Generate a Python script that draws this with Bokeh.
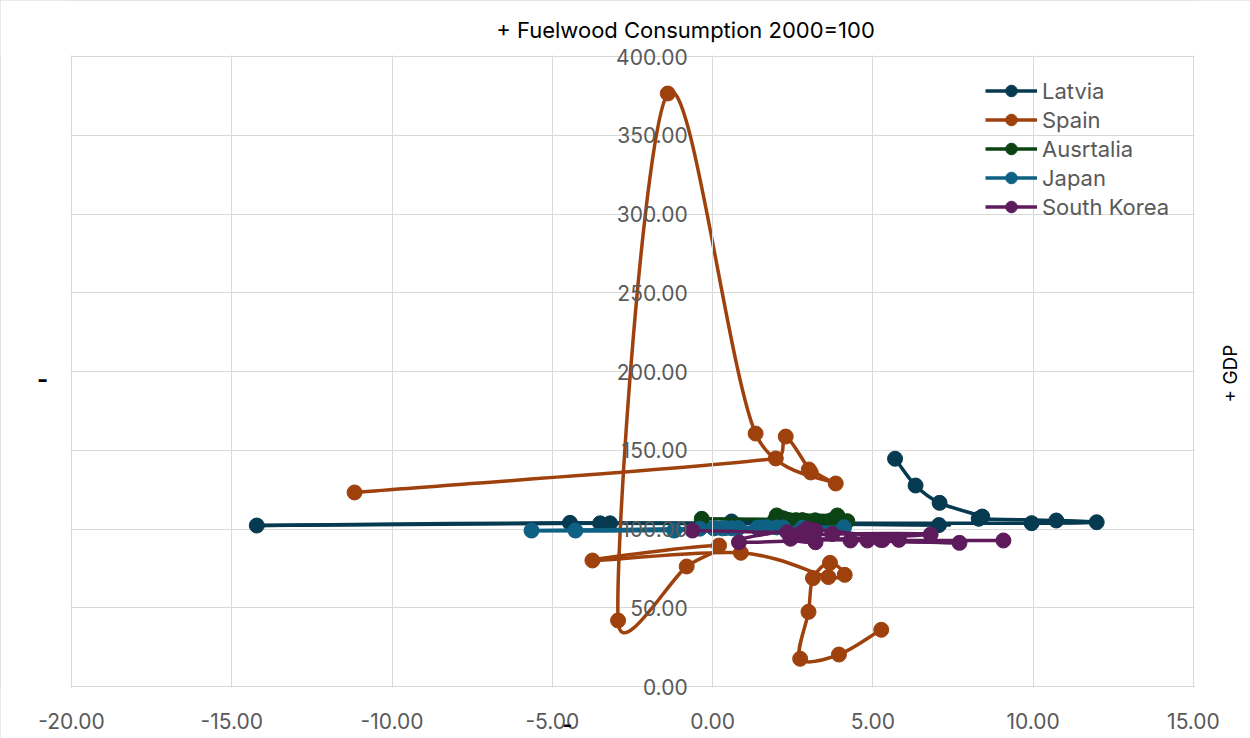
import numpy as np
from bokeh.plotting import figure
from bokeh.models import (ColumnDataSource, Range1d, SingleIntervalTicker, NumeralTickFormatter,
                          Label, Legend, LegendItem, LinearAxis, BoxAnnotation)
from bokeh.embed import file_html
from bokeh.resources import INLINE

# GDP growth (x) vs fuelwood consumption index (y), 2000-2020
latvia_x = [5.69, 6.33, 7.08, 8.41, 8.30, 10.72, 11.98, 9.95, -3.51, -14.22, -4.45,
            7.06, 4.10, 2.40, 0.59, 3.90, 2.40, 3.30, 4.00, 2.60, -3.20]
latvia_y = [144.6, 127.6, 116.6, 107.9, 106.5, 105.4, 104.3, 103.7, 103.6, 102.2, 103.9,
            102.5, 103.2, 103.5, 104.8, 103.4, 103.5, 103.6, 103.8, 103.5, 103.6]

spain_x = [5.26, 3.94, 2.73, 2.99, 3.13, 3.66, 4.12, 3.61, 0.88, -3.75, 0.20,
           -0.81, -2.95, -1.40, 1.34, 3.84, 3.00, 3.06, 2.28, 1.97, -11.17]
spain_y = [36.0, 20.3, 17.6, 47.4, 68.8, 78.5, 70.9, 69.5, 84.9, 80.0, 89.5,
           76.2, 41.9, 376.5, 160.6, 128.9, 137.8, 135.9, 158.7, 144.8, 123.2]

australia_x = [3.89, 2.00, 3.95, 2.90, 4.20, 3.20, 2.80, 3.80, 3.70, 1.95, 2.20,
               2.40, 3.90, 2.60, 2.60, 2.30, 2.80, 2.40, 2.80, 2.20, -0.34]
australia_y = [108.6, 108.6, 105.8, 105.0, 105.0, 105.5, 105.2, 105.8, 105.5, 106.0, 106.8,
               105.6, 106.2, 105.2, 105.6, 106.0, 105.4, 105.2, 105.6, 106.0, 106.5]

japan_x = [2.80, 0.40, 0.05, 1.50, 2.20, 1.70, 1.40, 1.50, -1.20, -5.65, 4.10,
           0.02, 1.40, 2.00, 0.30, 1.60, 0.80, 1.70, 0.60, -0.40, -4.28]
japan_y = [100.8, 100.6, 100.4, 100.8, 101.0, 101.0, 100.8, 100.9, 99.0, 99.0, 101.1,
           100.6, 100.8, 101.0, 100.4, 100.9, 100.6, 101.0, 100.5, 100.2, 99.0]

korea_x = [9.07, 4.83, 7.70, 3.16, 5.24, 4.30, 5.30, 5.81, 2.95, 0.82, 6.80,
           3.73, 2.43, 3.21, 3.20, 2.80, 2.95, 3.16, 2.95, 2.33, -0.63]
korea_y = [92.7, 92.7, 91.2, 93.5, 93.1, 92.7, 93.0, 93.1, 99.5, 91.6, 96.5,
           96.8, 93.8, 91.6, 99.0, 98.0, 99.2, 99.0, 100.2, 97.9, 99.0]

series = [
    ("Latvia", latvia_x, latvia_y, "#053A50"),
    ("Spain", spain_x, spain_y, "#9E410C"),
    ("Ausrtalia", australia_x, australia_y, "#0C4314"),
    ("Japan", japan_x, japan_y, "#0F6184"),
    ("South Korea", korea_x, korea_y, "#5E1B5C"),
]

X_START, X_END = -20, 15
Y_START, Y_END = 0, 400

# canvas and plot-area placement in pixels (the Bokeh frame is the whole canvas,
# the Excel "plot area" is drawn inside it so nothing gets clipped)
W, H = 1250, 738
AREA_L, AREA_R, AREA_T, AREA_B = 71, 1193, 56, 686
SX = (AREA_R - AREA_L) / (X_END - X_START)
SY = (AREA_B - AREA_T) / (Y_END - Y_START)

FONT = "Inter"
GREY = "#595959"
GRID = "#D9D9D9"


def excel_smooth(xs, ys):
    '''Bezier segments like Excel's "smoothed line" (control points worked out in pixels).'''
    pts = np.column_stack([np.asarray(xs, float) * SX, np.asarray(ys, float) * SY])
    n = len(pts)
    seg = {k: [] for k in ("x0", "y0", "x1", "y1", "cx0", "cy0", "cx1", "cy1")}
    for i in range(n - 1):
        p0 = pts[i - 1] if i > 0 else pts[i]
        p1, p2 = pts[i], pts[i + 1]
        p3 = pts[i + 2] if i + 2 < n else pts[i + 1]
        d12 = np.hypot(*(p2 - p1))
        d02 = np.hypot(*(p2 - p0))
        d13 = np.hypot(*(p3 - p1))
        f1 = 1 / 6 if i > 0 else 1 / 3
        f2 = 1 / 6 if i + 2 < n else 1 / 3
        if d02 * f1 >= d12 / 2:
            f1 = d12 / (2 * d02)
        if d13 * f2 >= d12 / 2:
            f2 = d12 / (2 * d13)
        c1 = p1 + f1 * (p2 - p0)
        c2 = p2 - f2 * (p3 - p1)
        seg["x0"].append(p1[0] / SX)
        seg["y0"].append(p1[1] / SY)
        seg["x1"].append(p2[0] / SX)
        seg["y1"].append(p2[1] / SY)
        seg["cx0"].append(c1[0] / SX)
        seg["cy0"].append(c1[1] / SY)
        seg["cx1"].append(c2[0] / SX)
        seg["cy1"].append(c2[1] / SY)
    return ColumnDataSource(seg)


def px_to_x(px):
    return X_START + (px - AREA_L) / SX


def py_to_y(py):
    return Y_START + (AREA_B - py) / SY


p = figure(width=W, height=H, output_backend="svg", toolbar_location=None,
           x_range=Range1d(px_to_x(0), px_to_x(W)), y_range=Range1d(py_to_y(H), py_to_y(0)),
           x_axis_location=None, y_axis_location=None,
           min_border=0, min_border_left=0, min_border_right=0, min_border_top=0, min_border_bottom=0)
p.outline_line_color = GRID
p.background_fill_color = "white"
p.border_fill_color = "white"

p.xgrid.ticker = SingleIntervalTicker(interval=5)
p.ygrid.ticker = SingleIntervalTicker(interval=50)
p.xgrid.grid_line_color = GRID
p.ygrid.grid_line_color = GRID

# white strips around the plot area hide the grid outside it
for kw in (dict(right=px_to_x(AREA_L - 1)), dict(left=px_to_x(AREA_R + 1)),
           dict(top=py_to_y(AREA_B + 1)), dict(bottom=py_to_y(AREA_T - 1))):
    p.add_layout(BoxAnnotation(level="underlay", fill_color="white", fill_alpha=1,
                               line_color=None, **kw))

xaxis = LinearAxis(fixed_location=0, bounds=(X_START, X_END), ticker=SingleIntervalTicker(interval=5),
                   major_label_standoff=22)
yaxis = LinearAxis(fixed_location=0, bounds=(Y_START, Y_END), ticker=SingleIntervalTicker(interval=50),
                   major_label_standoff=21)
for ax in (xaxis, yaxis):
    ax.formatter = NumeralTickFormatter(format="0.00")
    ax.axis_line_color = GRID
    ax.major_tick_line_color = None
    ax.major_tick_out = 0
    ax.major_tick_in = 0
    ax.minor_tick_line_color = None
    ax.major_label_text_font = FONT
    ax.major_label_text_font_size = "21px"
    ax.major_label_text_color = GREY
p.add_layout(xaxis, "below")
p.add_layout(yaxis, "left")

items = []
for name, xs, ys, color in series:
    bez = p.bezier(x0="x0", y0="y0", x1="x1", y1="y1", cx0="cx0", cy0="cy0", cx1="cx1", cy1="cy1",
                   source=excel_smooth(xs, ys), line_color=color, line_width=3.5)
    dots = p.scatter(xs, ys, marker="circle", size=15, fill_color=color, line_color=color)
    items.append(LegendItem(label=name, renderers=[bez, dots]))

legend = Legend(items=items, location=(985, 517), padding=0, margin=0, spacing=0,
                glyph_width=52, glyph_height=29, label_height=29, label_standoff=5,
                label_text_font=FONT, label_text_font_size="22px", label_text_color=GREY,
                background_fill_alpha=0, border_line_color=None)
p.add_layout(legend)

# chart title and axis titles, placed like the Excel chart
p.add_layout(Label(x=px_to_x(685), y=py_to_y(29), text="+ Fuelwood Consumption 2000=100",
                   text_align="center", text_baseline="middle", text_font=FONT,
                   text_font_size="22px", text_color="black"))
p.add_layout(Label(x=px_to_x(1230), y=py_to_y(373), text="+ GDP", angle=np.pi / 2,
                   text_align="center", text_baseline="middle", text_font=FONT,
                   text_font_size="19px", text_color="black"))
p.add_layout(Label(x=px_to_x(42), y=py_to_y(378), text="-", text_align="center",
                   text_baseline="middle", text_font=FONT, text_font_size="24px",
                   text_font_style="bold", text_color="black"))
p.add_layout(Label(x=px_to_x(567), y=py_to_y(723), text="-", text_align="center",
                   text_baseline="middle", text_font=FONT, text_font_size="21px",
                   text_font_style="bold", text_color="black"))

open("out.html", "w").write(file_html(p, INLINE))
